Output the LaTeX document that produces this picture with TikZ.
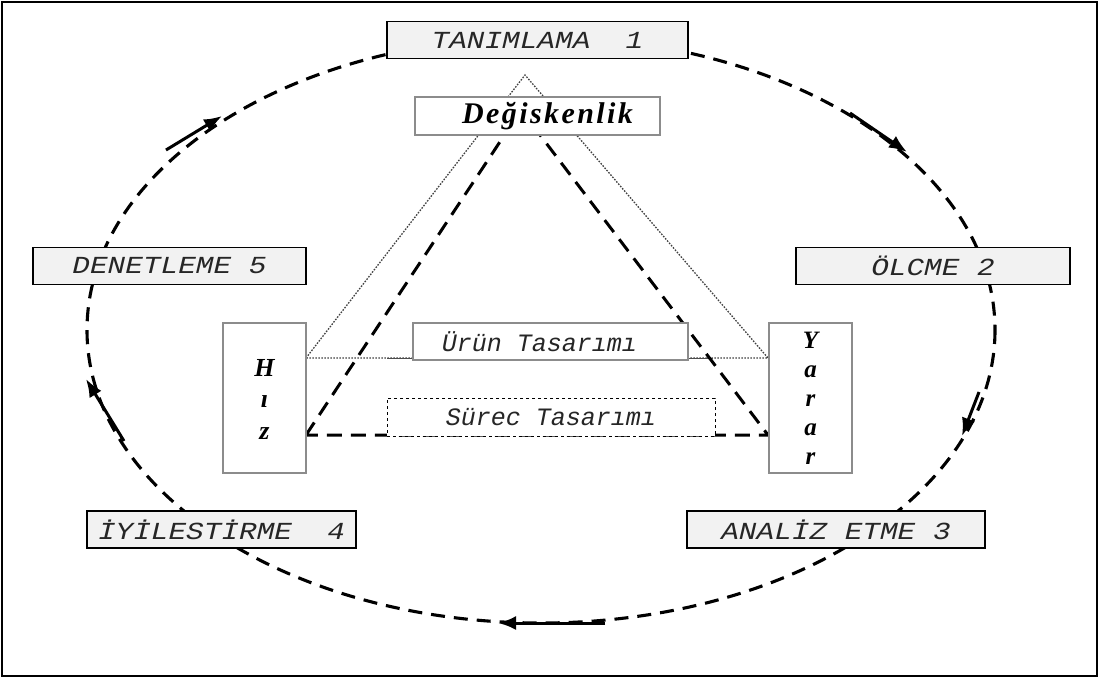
\documentclass[tikz,border=0pt]{standalone}
\usepackage{fontspec}
\setmainfont{Liberation Serif}
\newfontfamily\stagefont[FakeStretch=1.2]{Liberation Mono}
\newfontfamily\designfont{Liberation Mono}
\newfontfamily\headfont[LetterSpace=8]{Liberation Serif}
\usetikzlibrary{arrows.meta}

\tikzset{
  stagebox/.style={draw=black, line width=1.3pt, fill=black!5,
    minimum height=37pt, inner sep=0pt, text=black!85,
    font=\stagefont\itshape\fontsize{24.5}{24.5}\selectfont},
  greybox/.style={draw=black!45, line width=1.2pt, fill=white, inner sep=0pt},
  designtext/.style={font=\designfont\itshape\fontsize{25}{25}\selectfont, text=black!85},
  cycle/.style={line width=3.1pt, dash pattern=on 14pt off 9pt},
  tri/.style={line width=3pt, dash pattern=on 15pt off 9pt},
  dotline/.style={draw=black!75, line width=1.3pt, dash pattern=on 1.6pt off 1.4pt},
  flow/.style={line width=3pt, -{Latex[length=18pt,width=14pt]}},
}

\begin{document}
\begin{tikzpicture}[x=1pt,y=-1pt]
\useasboundingbox (0,0) rectangle (1099,678);
\draw[line width=1.2pt] (2,2) rectangle (1097,676);

% dotted outer triangle
\coordinate (dt) at (525,75);
\coordinate (dl) at (306,358);
\coordinate (dr) at (768,358);
\draw[dotline] (dl) -- (dt) -- (dr) -- cycle;
\draw[line width=1pt, black!70] (387,358) -- (713,358);

% dashed inner triangle
\coordinate (tt) at (521,110);
\coordinate (tl) at (306,435);
\coordinate (tr) at (768,435);
\draw[tri] (tl) -- (tt) -- (tr) -- cycle;

% improvement cycle
\draw[cycle] (541,330) ellipse [x radius=454, y radius=293];

% stage boxes
\node[stagebox, minimum width=301pt] (s1) at (537.5,40) {TANIMLAMA \ 1};
\node[stagebox, minimum width=274pt] (s2) at (933,266) {ÖLCME 2};
\node[stagebox, minimum width=298pt] (s3) at (836,529.5) {ANALİZ ETME 3};
\node[stagebox, minimum width=269pt] (s4) at (221.5,529.5) {İYİLESTİRME \ 4};
\node[stagebox, minimum width=273pt] (s5) at (169.5,266) {DENETLEME 5};

% triangle corner boxes
\node[greybox, minimum width=245pt, minimum height=38pt] (var) at (537.5,116)
  {\hspace*{20pt}\headfont\bfseries\itshape\fontsize{30}{30}\selectfont Değiskenlik};
\node[greybox, minimum width=83pt, minimum height=150pt, align=center,
  font=\bfseries\itshape\fontsize{26}{31.5}\selectfont] (hiz) at (264.5,398)
  {\\[-12pt]H\\ı\\z};
\node[greybox, minimum width=83pt, minimum height=150pt, align=center,
  font=\bfseries\itshape\fontsize{25}{29}\selectfont] (yarar) at (810.5,398)
  {Y\\a\\r\\a\\r};

% design boxes
\node[greybox, designtext, minimum width=275pt, minimum height=37pt] (urun) at (550.5,341.5)
  {\hspace*{-22pt}Ürün Tasarımı};
\node[draw, dashed, line width=1pt, fill=white, designtext, inner sep=0pt,
  minimum width=328pt, minimum height=38pt] (surec) at (551,417) {Sürec Tasarımı};

% direction arrows alongside the cycle
\coordinate (a1s) at (166,150); \coordinate (a1e) at (222,116);
\coordinate (a2s) at (850,113); \coordinate (a2e) at (907,152);
\coordinate (a3s) at (979,392); \coordinate (a3e) at (962,436);
\coordinate (a4s) at (605,623); \coordinate (a4e) at (498,623);
\coordinate (a5s) at (124,441); \coordinate (a5e) at (86,379);
\draw[flow] (a1s) -- (a1e);
\draw[flow] (a2s) -- (a2e);
\draw[flow] (a3s) -- (a3e);
\draw[flow] (a4s) -- (a4e);
\draw[flow] (a5s) -- (a5e);
\end{tikzpicture}
\end{document}
